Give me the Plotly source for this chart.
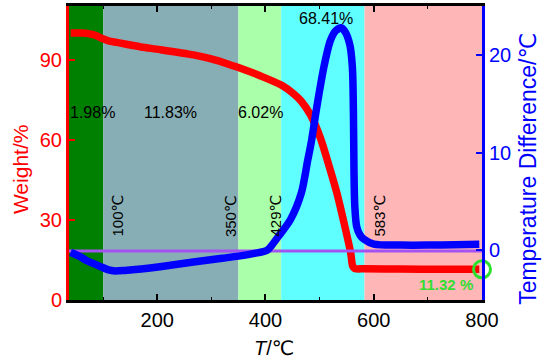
import plotly.graph_objects as go

# ---- data ----
temp_w = [40, 60, 75, 87, 97, 110, 125, 143, 170, 205, 267, 300, 329, 350, 390, 430, 451,
          465, 483, 501, 520, 532, 545, 557.5, 561, 565, 583, 650, 720, 795]
weight = [100.1, 100.1, 99.8, 99.2, 98.2, 97.2, 96.6, 95.9, 94.9, 93.9, 91.9, 90.4, 88.6, 87.2,
          84.1, 80.5, 77.5, 74.8, 69.5, 61.0, 48.5, 40.0, 29.0, 17.6, 12.8, 11.8, 11.7, 11.6, 11.55, 11.5]

temp_d = [40, 55, 70, 85, 97, 110, 122, 140, 170, 205, 267, 320, 350, 380, 403, 412, 424, 446,
          466, 478, 485, 494, 508, 520, 530, 540, 548, 556, 560.5, 562.5, 563.5, 565, 568.5,
          575, 582, 600, 650, 700, 750, 795]
dta = [-0.25, -0.6, -1.1, -1.45, -1.75, -2.05, -2.15, -2.1, -1.95, -1.72, -1.23, -0.85, -0.63,
       -0.35, -0.03, 0.5, 1.4, 3.1, 5.8, 9.2, 11.2, 14.4, 18.8, 21.5, 22.5, 22.8, 22.3, 21.0,
       18.8, 14.0, 8.0, 4.5, 2.4, 1.5, 1.1, 0.6, 0.5, 0.5, 0.55, 0.6]

band_edges = [37, 100, 350, 429, 583, 800]
band_colors = ["#008000", "#87AEB4", "#AAFFAA", "#5FFFFF", "#FFB6B6"]

loss_text = ["1.98%", "11.83%", "6.02%", "68.41%"]
temp_text = ["100℃", "350℃", "429℃", "583℃"]
residue_text = "11.32 %"
residue_point = (800, 11.5)
baseline_dta = -0.1

x_ticks = [200, 400, 600, 800]
x_minor = [100, 300, 500, 700]
w_ticks = [0, 30, 60, 90]
d_ticks = [0, 10, 20]

x_title = "<i>T</i>/℃"
w_title = "Weight/%"
d_title = "Temperature Difference/℃"

# label placements (layout, not data)
loss_pos = [(80.7, 70.5), (223.6, 70.5), (390.5, 70.5), (511, 105.4)]
temp_pos = [(124.8, 31.5), (334.6, 31.5), (416.7, 31.5), (609, 31.5)]
residue_pos = (734, 6.0)

X_RANGE = [37, 800]
W_RANGE = [0, 110.25]
D_RANGE = [-5.13, 25.03]

FONT = "Liberation Sans, Arial, DejaVu Sans, sans-serif"

fig = go.Figure()

fig.add_trace(go.Scatter(x=X_RANGE, y=[baseline_dta, baseline_dta], yaxis="y2", mode="lines",
                         line=dict(color="#A552F2", width=3), hoverinfo="skip", showlegend=False))
fig.add_trace(go.Scatter(x=temp_w, y=weight, mode="lines",
                         line=dict(color="#FF0000", width=7.5, shape="spline", smoothing=0.8),
                         showlegend=False))
fig.add_trace(go.Scatter(x=temp_d, y=dta, yaxis="y2", mode="lines",
                         line=dict(color="#0000FF", width=7.5, shape="spline", smoothing=0.8),
                         showlegend=False))
fig.add_trace(go.Scatter(x=[residue_point[0]], y=[residue_point[1]], mode="markers",
                         marker=dict(symbol="circle-open", size=17, color="#2EE02E",
                                     line=dict(width=3, color="#2EE02E")),
                         cliponaxis=False, showlegend=False))

shapes = []
for i, c in enumerate(band_colors):
    shapes.append(dict(type="rect", xref="x", yref="paper", x0=band_edges[i], x1=band_edges[i + 1],
                       y0=0, y1=1, fillcolor=c, line=dict(width=0), layer="below"))

annotations = []
for t, (px, py) in zip(loss_text, loss_pos):
    annotations.append(dict(x=px, y=py, xref="x", yref="y", text=t, showarrow=False,
                            font=dict(family=FONT, size=16, color="black")))
for t, (px, py) in zip(temp_text, temp_pos):
    annotations.append(dict(x=px, y=py, xref="x", yref="y", text=t, showarrow=False, textangle=-90,
                            font=dict(family=FONT, size=15, color="black")))
annotations.append(dict(x=residue_pos[0], y=residue_pos[1], xref="x", yref="y", text="<b>" + residue_text + "</b>",
                        showarrow=False, font=dict(family=FONT, size=15, color="#33DD33")))
# axis titles as paper-anchored annotations
annotations.append(dict(x=-0.116, y=0.4456, xref="paper", yref="paper", text=w_title, showarrow=False,
                        textangle=-90, xanchor="center", yanchor="middle",
                        font=dict(family=FONT, size=21, color="#FF0000")))
annotations.append(dict(x=1.111, y=0.4456, xref="paper", yref="paper", text=d_title, showarrow=False,
                        textangle=-90, xanchor="center", yanchor="middle",
                        font=dict(family=FONT, size=23, color="#0000FF")))
annotations.append(dict(x=0.4964, y=-0.163, xref="paper", yref="paper", text=x_title, showarrow=False,
                        xanchor="center", yanchor="middle",
                        font=dict(family=FONT, size=20, color="black")))

fig.update_layout(
    template="none",
    width=543, height=362,
    margin=dict(l=69, r=61, t=6, b=62, autoexpand=False),
    paper_bgcolor="white", plot_bgcolor="white",
    shapes=shapes, annotations=annotations,
    font=dict(family=FONT),
    xaxis=dict(range=X_RANGE, tickvals=x_ticks, ticks="inside", ticklen=6, tickwidth=2,
               tickcolor="black", showline=True, linecolor="black", linewidth=3, mirror="ticks",
               showgrid=False, zeroline=False, tickfont=dict(size=20, color="black"),
               ticklabelstandoff=0, automargin=False,
               minor=dict(tickvals=x_minor, ticks="inside", ticklen=3, tickwidth=1, tickcolor="black")),
    yaxis=dict(range=W_RANGE, tickvals=w_ticks, ticks="inside", ticklen=6, tickwidth=2,
               tickcolor="#FF0000", showline=True, linecolor="#FF0000", linewidth=3,
               showgrid=False, zeroline=False, tickfont=dict(size=20, color="#FF0000"),
               ticklabelstandoff=0, automargin=False),
    yaxis2=dict(range=D_RANGE, tickvals=d_ticks, ticks="inside", ticklen=6, tickwidth=2,
                tickcolor="#0000FF", showline=True, linecolor="#0000FF", linewidth=3,
                overlaying="y", side="right", showgrid=False, zeroline=False,
                tickfont=dict(size=20, color="#0000FF"), ticklabelstandoff=0, automargin=False),
)

fig.write_html("out.html", config={"displayModeBar": False},
               post_script="document.body.style.margin='0';document.body.style.padding='0';")
